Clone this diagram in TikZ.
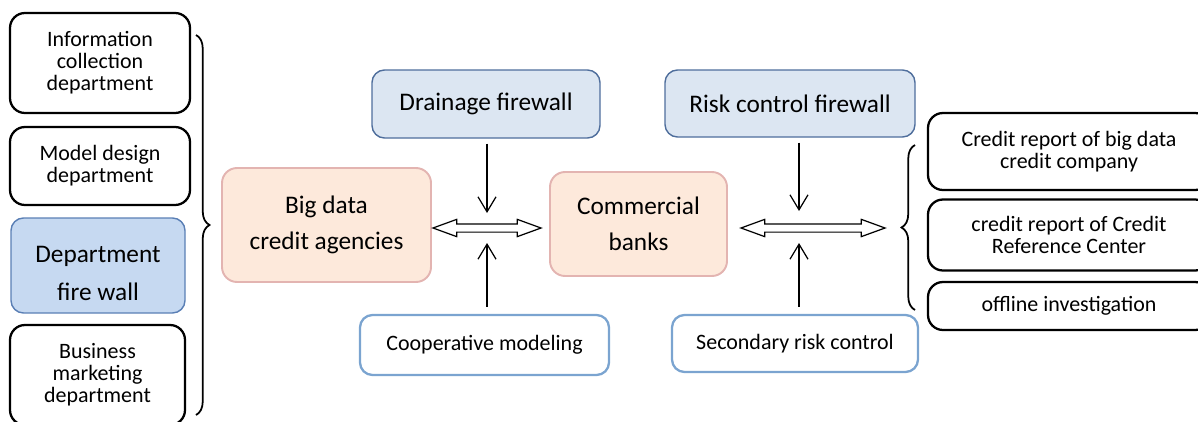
\documentclass[tikz,border=0pt]{standalone}
\usepackage{fontspec}
\setmainfont{Carlito}
\usetikzlibrary{arrows.meta,shapes.arrows,decorations.pathreplacing}

\definecolor{fwfill}{HTML}{DCE6F2}
\definecolor{fwdraw}{HTML}{4F6E9C}
\definecolor{deptfill}{HTML}{C6D9F1}
\definecolor{deptdraw}{HTML}{5A7FB5}
\definecolor{orgfill}{HTML}{FDE9DB}
\definecolor{orgdraw}{HTML}{E3B4B1}
\definecolor{ctrldraw}{HTML}{7BA4D0}

\tikzset{
	deptbox/.style={draw=black, line width=1.3pt, rounded corners=0.3cm, align=center, inner sep=0pt, font=\fontsize{12.5}{12.5}\selectfont},
	wallbox/.style={draw=fwdraw, fill=fwfill, line width=0.8pt, rounded corners=0.25cm, align=center, inner sep=0pt, font=\fontsize{14.4}{17}\selectfont},
	partybox/.style={draw=orgdraw, fill=orgfill, line width=1.1pt, rounded corners=0.3cm, align=center, inner sep=0pt, font=\fontsize{14.4}{20.5}\selectfont},
	ctrlbox/.style={draw=ctrldraw, line width=1.3pt, rounded corners=0.25cm, align=center, inner sep=0pt, font=\fontsize{12.5}{12.5}\selectfont},
	linkarrow/.style={double arrow, draw, fill=white, line width=0.7pt, inner xsep=0pt, inner ysep=0.07cm, double arrow head extend=0.09cm, double arrow tip angle=40},
	feedarrow/.style={-{Straight Barb[length=0.3cm,width=0.36cm]}, line width=0.7pt},
	groupbrace/.style={decorate, decoration={brace, amplitude=0.27cm}, line width=1pt}
}

\begin{document}
	\begin{tikzpicture}
		\useasboundingbox (0,0) rectangle (23.96,8.42);
		
		% departments of the agency
		\node[deptbox, minimum width=3.6cm, minimum height=2.0cm] (infodept) at (2.00,7.16) {Information\\collection\\department};
		\node[deptbox, minimum width=3.6cm, minimum height=1.56cm] (modeldept) at (2.00,5.10) {Model design\\department};
		\node[wallbox, fill=deptfill, draw=deptdraw, minimum width=3.48cm, minimum height=1.9cm,
			label={[align=center, font=\fontsize{14.4}{21.6}\selectfont, yshift=-0.15cm]center:Department\\fire wall}] (deptwall) at (1.96,3.11) {};
		\node[deptbox, minimum width=3.5cm, minimum height=2.0cm] (bizdept) at (1.95,0.92) {Business\\marketing\\department};
		\coordinate (lbtop) at (3.92,7.72);
		\coordinate (lbbot) at (3.92,0.12);
		\draw[groupbrace] (lbtop) -- (lbbot);
		
		% the two parties and the walls between them
		\node[partybox, minimum width=4.18cm, minimum height=2.28cm] (bigdata) at (6.53,3.92) {Big data\\credit agencies};
		\node[partybox, minimum width=3.54cm, minimum height=2.08cm] (banks) at (12.77,3.94) {Commercial\\banks};
		\node[wallbox, minimum width=4.56cm, minimum height=1.36cm] (drainwall) at (9.72,6.34) {Drainage firewall};
		\node[wallbox, minimum width=5.0cm, minimum height=1.34cm] (riskwall) at (15.80,6.35) {Risk control firewall};
		\node[ctrlbox, minimum width=4.98cm, minimum height=1.2cm] (coop) at (9.69,1.52) {Cooperative modeling};
		\node[ctrlbox, minimum width=4.92cm, minimum height=1.14cm] (secrisk) at (15.90,1.55) {Secondary risk control};
		
		\node[linkarrow, minimum height=2.16cm] (link1) at (9.74,3.86) {};
		\node[linkarrow, minimum height=2.88cm] (link2) at (16.26,3.86) {};
		\coordinate (hub2) at (15.98,3.86);
		
		\draw[feedarrow, shorten <=0.1cm, shorten >=0.3cm] (drainwall.south -| link1) -- (link1.center);
		\draw[feedarrow, shorten <=0.14cm, shorten >=0.3cm] (coop.north -| link1) -- (link1.center);
		\draw[feedarrow, shorten <=0.1cm, shorten >=0.34cm] (riskwall.south -| hub2) -- (hub2);
		\draw[feedarrow, shorten <=0.14cm, shorten >=0.3cm] (secrisk.north -| hub2) -- (hub2);
		
		% reports used by the bank
		\coordinate (rbbot) at (18.30,2.22);
		\coordinate (rbtop) at (18.30,5.52);
		\draw[groupbrace] (rbbot) -- (rbtop);
		\node[deptbox, minimum width=5.64cm, minimum height=1.54cm] (bigreport) at (21.38,5.39) {Credit report of big data\\credit company};
		\node[deptbox, minimum width=5.64cm, minimum height=1.42cm] (crcreport) at (21.38,3.72) {credit report of Credit\\Reference Center};
		\node[deptbox, minimum width=5.64cm, minimum height=0.96cm] (offline) at (21.38,2.30) {offline investigation};
	\end{tikzpicture}
\end{document}
